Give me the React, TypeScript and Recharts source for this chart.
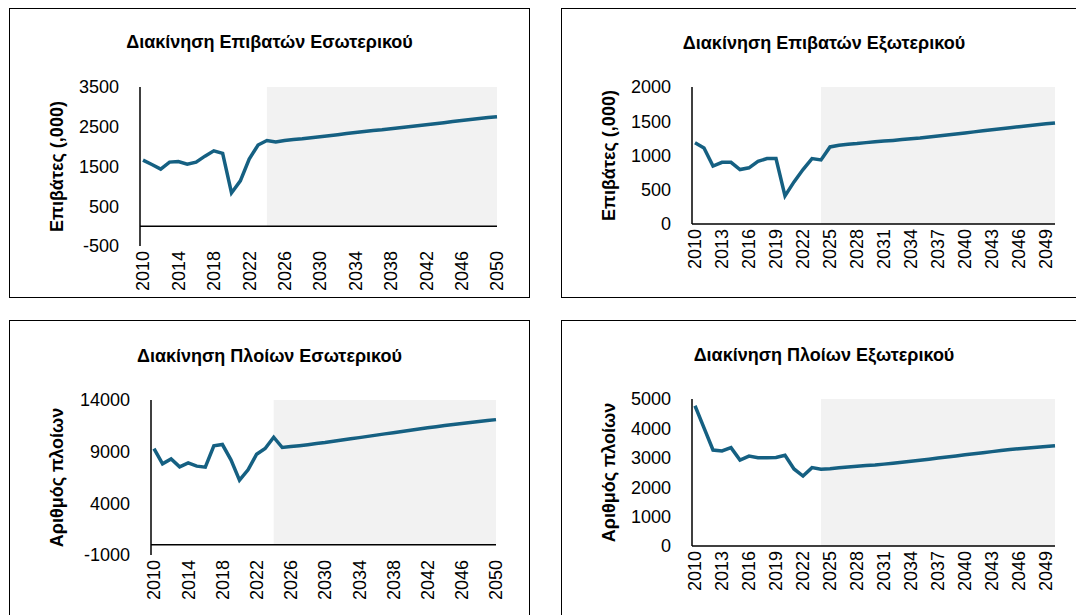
import React from 'react';
import {
  LineChart,
  Line,
  XAxis,
  YAxis,
  ReferenceArea,
  ReferenceLine,
} from 'recharts';

// years 2010..2050, values
const years = [
  2010, 2011, 2012, 2013, 2014, 2015, 2016, 2017, 2018, 2019, 2020, 2021, 2022, 2023,
  2024, 2025, 2026, 2027, 2028, 2029, 2030, 2031, 2032, 2033, 2034, 2035, 2036, 2037,
  2038, 2039, 2040, 2041, 2042, 2043, 2044, 2045, 2046, 2047, 2048, 2049, 2050,
];

const passengersDomestic = [
  1660, 1550, 1435, 1610, 1625, 1560, 1610, 1760, 1895, 1830, 835, 1140, 1685, 2040,
  2155, 2115, 2155, 2180, 2200, 2225, 2250, 2275, 2300, 2330, 2355, 2380, 2405, 2425,
  2450, 2475, 2500, 2525, 2550, 2575, 2600, 2630, 2655, 2680, 2705, 2730, 2750,
];

const passengersForeign = [
  1185, 1110, 845, 900, 900, 795, 820, 915, 955, 955, 410, 615, 795, 955,
  935, 1125, 1150, 1165, 1175, 1188, 1200, 1210, 1220, 1232, 1243, 1255, 1270, 1285,
  1300, 1315, 1330, 1345, 1360, 1375, 1390, 1405, 1420, 1435, 1450, 1462, 1475,
];

const shipsDomestic = [
  9300, 7820, 8300, 7530, 7920, 7600, 7500, 9560, 9690, 8210, 6240, 7240, 8750, 9300,
  10400, 9400, 9490, 9580, 9680, 9780, 9880, 10000, 10120, 10240, 10360, 10480, 10600, 10720,
  10840, 10960, 11080, 11200, 11310, 11420, 11530, 11630, 11730, 11830, 11920, 12010, 12100,
];

const shipsForeign = [
  4770, 4020, 3265, 3235, 3345, 2925, 3060, 3005, 3005, 3010, 3085, 2620, 2380, 2665,
  2610, 2630, 2660, 2690, 2715, 2735, 2755, 2785, 2815, 2850, 2880, 2915, 2950, 2990,
  3025, 3060, 3100, 3135, 3175, 3210, 3245, 3280, 3310, 3335, 3360, 3385, 3410,
];

const yearTicksBy4 = [2010, 2014, 2018, 2022, 2026, 2030, 2034, 2038, 2042, 2046, 2050];
const yearTicksBy3 = [2010, 2013, 2016, 2019, 2022, 2025, 2028, 2031, 2034, 2037, 2040, 2043, 2046, 2049];

const ticksPassDom = [-500, 500, 1500, 2500, 3500];
const ticksPassFor = [0, 500, 1000, 1500, 2000];
const ticksShipDom = [-1000, 4000, 9000, 14000];
const ticksShipFor = [0, 1000, 2000, 3000, 4000, 5000];

const forecastStart = 2024;
const forecastEnd = 2050;

const FONT = '"Liberation Sans", Arial, sans-serif';
const LINE_COLOR = '#156082';

const toRows = (values: number[]) => years.map((year, i) => ({ year, v: values[i] }));

const YearTick = (props: any) => {
  const { x, y, payload } = props;
  return (
    <text
      x={x}
      y={y}
      transform={`rotate(-90 ${x} ${y})`}
      textAnchor='end'
      dy='0.36em'
      fontSize={18}
      fontFamily={FONT}
      fill='#000'
    >
      {payload.value}
    </text>
  );
};

interface PanelProps {
  title: string;
  yLabel: string;
  values: number[];
  yTicks: number[];
  xTicks: number[];
  left: number;
  top: number;
  width: number;
  height: number;
  axisWidth: number;
  marginTop: number;
  marginRight: number;
  xAxisHeight: number;
  titleY: number;
}

const Panel: React.FC<PanelProps> = (p) => {
  const yMin = p.yTicks[0];
  const yMax = p.yTicks[p.yTicks.length - 1];
  return (
    <div
      style={{
        position: 'absolute',
        left: p.left,
        top: p.top,
        width: p.width,
        height: p.height,
        background: '#fff',
      }}
    >
      <div
        style={{
          position: 'absolute',
          left: 0,
          width: p.width,
          top: p.titleY - 11,
          lineHeight: '22px',
          textAlign: 'center',
          fontFamily: FONT,
          fontWeight: 'bold',
          fontSize: 18,
          color: '#000',
        }}
      >
        {p.title}
      </div>
      <LineChart
        width={p.width}
        height={p.height}
        data={toRows(p.values)}
        margin={{ top: p.marginTop, right: p.marginRight, left: 0, bottom: 0 }}
      >
        <ReferenceArea
          x1={forecastStart}
          x2={forecastEnd}
          y1={0}
          y2={yMax}
          fill='#f2f2f2'
          fillOpacity={1}
          stroke='none'
        />
        <XAxis
          dataKey='year'
          type='number'
          domain={[2010, 2050]}
          ticks={p.xTicks}
          interval={0}
          axisLine={false}
          tickLine={false}
          tickSize={3}
          tickMargin={2}
          padding={{ left: 3, right: 0 }}
          height={p.xAxisHeight}
          tick={<YearTick />}
        />
        <YAxis
          domain={[yMin, yMax]}
          ticks={p.yTicks}
          interval={0}
          width={p.axisWidth}
          axisLine={{ stroke: '#000', strokeWidth: 1.5 }}
          tickLine={false}
          tickMargin={15}
          tick={{ fontSize: 18, fill: '#000', fontFamily: FONT }}
          label={{
            value: p.yLabel,
            angle: -90,
            position: 'insideLeft',
            offset: 48,
            style: {
              textAnchor: 'middle',
              fontSize: 18,
              fontWeight: 'bold',
              fontFamily: FONT,
              fill: '#000',
            },
          }}
        />
        <ReferenceLine y={0} stroke='#000' strokeWidth={1.5} />
        <Line
          type='linear'
          dataKey='v'
          stroke={LINE_COLOR}
          strokeWidth={3.5}
          dot={false}
          isAnimationActive={false}
        />
      </LineChart>
      <div
        style={{
          position: 'absolute',
          inset: 0,
          border: '1.5px solid #000',
          boxSizing: 'border-box',
          pointerEvents: 'none',
        }}
      />
    </div>
  );
};

export default function App() {
  return (
    <div
      style={{
        position: 'absolute',
        left: 0,
        top: 0,
        width: 1076,
        height: 615,
        overflow: 'hidden',
        background: '#fff',
      }}
    >
      <Panel
        title='Διακίνηση Επιβατών Εσωτερικού'
        yLabel='Επιβάτες (,000)'
        values={passengersDomestic}
        yTicks={ticksPassDom}
        xTicks={yearTicksBy4}
        left={9}
        top={8}
        width={521}
        height={290}
        axisWidth={131}
        marginTop={79}
        marginRight={33}
        xAxisHeight={52}
        titleY={34}
      />
      <Panel
        title='Διακίνηση Επιβατών Εξωτερικού'
        yLabel='Επιβάτες (,000)'
        values={passengersForeign}
        yTicks={ticksPassFor}
        xTicks={yearTicksBy3}
        left={561}
        top={8}
        width={526}
        height={290}
        axisWidth={131}
        marginTop={79}
        marginRight={32}
        xAxisHeight={74}
        titleY={35}
      />
      <Panel
        title='Διακίνηση Πλοίων Εσωτερικού'
        yLabel='Αριθμός πλοίων'
        values={shipsDomestic}
        yTicks={ticksShipDom}
        xTicks={yearTicksBy4}
        left={9}
        top={320}
        width={521}
        height={300}
        axisWidth={142}
        marginTop={80}
        marginRight={34}
        xAxisHeight={65}
        titleY={36}
      />
      <Panel
        title='Διακίνηση Πλοίων Εξωτερικού'
        yLabel='Αριθμός πλοίων'
        values={shipsForeign}
        yTicks={ticksShipFor}
        xTicks={yearTicksBy3}
        left={561}
        top={320}
        width={526}
        height={300}
        axisWidth={131}
        marginTop={79}
        marginRight={32}
        xAxisHeight={74}
        titleY={35}
      />
    </div>
  );
}
